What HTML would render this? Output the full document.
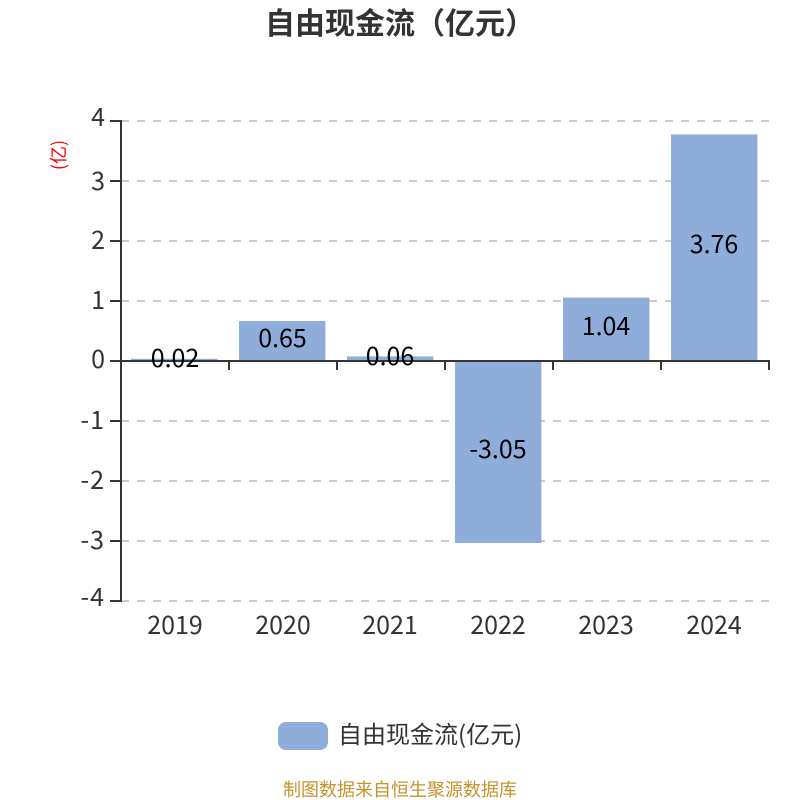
<!DOCTYPE html>
<html>
<head>
<meta charset="utf-8">
<style>
html,body{margin:0;padding:0;background:#fff;width:800px;height:800px;overflow:hidden}
svg{display:block}
text{font-family:"Noto Sans CJK SC","Liberation Sans",sans-serif}
</style>
</head>
<body>
<svg width="800" height="800" viewBox="0 0 800 800" xmlns="http://www.w3.org/2000/svg">
<rect width="800" height="800" fill="#fff"/>
<g stroke="#ccc" stroke-width="2" stroke-dasharray="8 8" fill="none">
<path d="M121 121H769"/><path d="M121 181H769"/><path d="M121 241H769"/><path d="M121 301H769"/>
<path d="M121 421H769"/><path d="M121 481H769"/><path d="M121 541H769"/><path d="M121 601H769"/>
</g>
<g fill="#8eadda">
<rect x="131" y="358.8" width="86.6" height="2"/>
<rect x="239" y="321" width="86.4" height="40"/>
<rect x="347" y="356.4" width="86.4" height="4.6"/>
<rect x="455" y="360" width="86.4" height="183"/>
<rect x="563" y="297.6" width="86.4" height="63.4"/>
<rect x="671" y="134.4" width="86.4" height="226.6"/>
</g>
<g stroke="#333" stroke-width="2" fill="none">
<path d="M121 120V602"/>
<path d="M110 361H770"/>
<path d="M110 121H121M110 181H121M110 241H121M110 301H121M110 421H121M110 481H121M110 541H121M110 601H121"/>
<path d="M229 361V370M337 361V370M445 361V370M553 361V370M661 361V370M769 361V370"/>
</g>
<g font-size="25" fill="#333" text-anchor="end">
<text x="105" y="126">4</text>
<text x="105" y="190">3</text>
<text x="105" y="249">2</text>
<text x="105" y="309">1</text>
<text x="105" y="368">0</text>
<text x="105" y="429" letter-spacing="1">-1</text>
<text x="105" y="489" letter-spacing="1">-2</text>
<text x="105" y="549" letter-spacing="1">-3</text>
<text x="105" y="606" letter-spacing="1">-4</text>
</g>
<g font-size="25" fill="#333" text-anchor="middle">
<text x="175" y="634">2019</text>
<text x="283" y="634">2020</text>
<text x="390" y="634">2021</text>
<text x="498" y="634">2022</text>
<text x="606" y="634">2023</text>
<text x="714" y="634">2024</text>
</g>
<g font-size="25" fill="#000" text-anchor="middle">
<text x="175" y="367">0.02</text>
<text x="282.5" y="347">0.65</text>
<text x="390" y="365">0.06</text>
<text x="498" y="458">-3.05</text>
<text x="606" y="335">1.04</text>
<text x="714" y="253">3.76</text>
</g>
<text x="400" y="34" font-size="30" font-weight="700" fill="#333" text-anchor="middle">自由现金流（亿元）</text>
<text transform="translate(65 155) rotate(-90)" font-size="18" fill="#f00" text-anchor="middle">(亿)</text>
<rect x="278" y="722" width="50" height="28" rx="8" ry="8" fill="#8eadda"/>
<text x="338" y="743" font-size="24" fill="#333">自由现金流(亿元)</text>
<text x="400" y="796" font-size="18" fill="#c6922a" text-anchor="middle">制图数据来自恒生聚源数据库</text>
</svg>
</body>
</html>
